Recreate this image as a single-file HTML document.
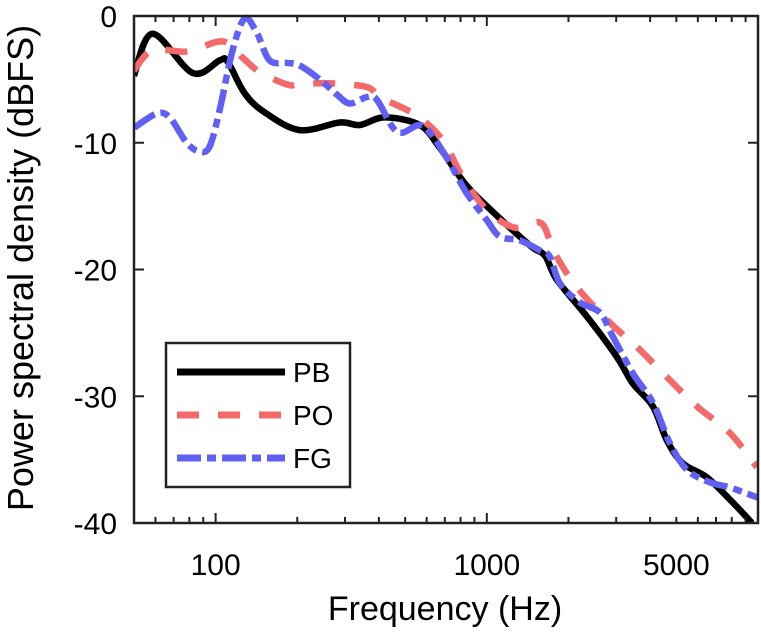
<!DOCTYPE html>
<html><head><meta charset="utf-8"><style>
html,body{margin:0;padding:0;background:#fff;}
svg{display:block;font-family:"Liberation Sans",Arial,sans-serif;}
</style></head><body>
<svg id="chart" width="761" height="634" viewBox="0 0 761 634">
<g id="series"></g>
<g id="axes"></g>
<g id="legend"></g>
</svg>
<script>
const pbFreq=[50,58.5,82.3,103.5,110.7,128,151.6,204,287,340,420,566,671,829,1000,1442,1637,1812,2338,3019,3457,4097,4616,5286,6485,8087,9500];
const pbDb=[-4.7,-1.4,-4.5,-3.5,-3.6,-6.1,-7.6,-9.0,-8.4,-8.6,-8.0,-8.6,-10.4,-13.2,-15.0,-18.1,-18.9,-20.8,-23.7,-26.9,-29.0,-30.8,-33.5,-35.3,-36.4,-38.4,-40];
const poFreq=[50,58.5,78.8,106,125.8,145,183,204,263,361,403,507,566,688,815,1000,1268,1569,1708,1812,2148,2844,3575,4616,5955,7880,9910];
const poDb=[-4.3,-2.7,-2.8,-2.0,-3.3,-4.4,-5.4,-5.4,-5.3,-5.6,-6.4,-7.4,-8.0,-9.8,-12.7,-15.3,-16.7,-16.3,-17.7,-19.0,-21.4,-24.2,-26.1,-28.5,-30.8,-32.9,-35.6];
const fgFreq=[50.2,60.6,67.7,78.2,87.3,95,103.5,115.5,128,141.7,158,182.8,204,242,280,312,361,393,450,490,566,632,730,844,1000,1116,1324,1569,1708,1860,2204,2612,2917,3457,4097,4733,5470,6652,7880,10000];
const fgDb=[-8.8,-7.7,-8.0,-10.0,-10.7,-10.3,-7.4,-2.7,-0.2,-1.3,-3.5,-3.7,-3.9,-5.0,-6.2,-6.9,-6.4,-6.6,-8.8,-9.2,-8.6,-9.5,-11.6,-14.0,-16.1,-17.4,-17.7,-18.5,-19.0,-21.1,-22.6,-23.4,-25.3,-28.2,-30.5,-33.7,-35.8,-36.8,-37.2,-38.0];
const xTickVals=[100,1000,5000];
const xTickLabels=["100","1000","5000"];
const yTickVals=[0,-10,-20,-30,-40];
const yTickLabels=["0","-10","-20","-30","-40"];
const seriesNames=["PB","PO","FG"];

const L=134,R=758,T=16,B=523,XMIN=50,XMAX=10000,YMIN=-40,YMAX=0;
const NS="http://www.w3.org/2000/svg";
function X(f){return L+(Math.log10(f)-Math.log10(XMIN))/(Math.log10(XMAX)-Math.log10(XMIN))*(R-L);}
function Y(v){return T+(YMAX-v)/(YMAX-YMIN)*(B-T);}
function mk(tag,attrs,parent){const e=document.createElementNS(NS,tag);for(const k in attrs)e.setAttribute(k,attrs[k]);parent.appendChild(e);return e;}
function smooth(pts){let d='M'+pts[0][0].toFixed(1)+','+pts[0][1].toFixed(1);
  for(let i=0;i<pts.length-1;i++){const p0=pts[Math.max(0,i-1)],p1=pts[i],p2=pts[i+1],p3=pts[Math.min(pts.length-1,i+2)];
    const c1x=p1[0]+(p2[0]-p0[0])/6,c1y=p1[1]+(p2[1]-p0[1])/6,c2x=p2[0]-(p3[0]-p1[0])/6,c2y=p2[1]-(p3[1]-p1[1])/6;
    d+=' C'+c1x.toFixed(1)+','+c1y.toFixed(1)+' '+c2x.toFixed(1)+','+c2y.toFixed(1)+' '+p2[0].toFixed(1)+','+p2[1].toFixed(1);}
  return d;}
const axes=document.getElementById('axes'),series=document.getElementById('series'),legend=document.getElementById('legend');

const styles=[{c:"#000",d:"none"},{c:"#f46a6a",d:"22 19"},{c:"#6060f4",d:"24 6 9 6"}];
const data=[[pbFreq,pbDb],[poFreq,poDb],[fgFreq,fgDb]];
const clip=mk('clipPath',{id:'pc'},series);mk('rect',{x:L,y:T-3,width:R-L,height:B-T+3},clip);
data.forEach((s,i)=>{
  const pts=s[0].map((f,j)=>[X(f),Y(s[1][j])]);
  const p=mk('path',{d:smooth(pts),fill:'none',stroke:styles[i].c,'stroke-width':6.5,'stroke-dasharray':styles[i].d,'stroke-linejoin':'round','clip-path':'url(#pc)'},series);
  
  
});

const fr=mk('rect',{x:L,y:T,width:R-L,height:B-T,fill:'none',stroke:'#222','stroke-width':2.5},axes);


for(let dec=10;dec<10000;dec*=10){for(let m=1;m<10;m++){const f=dec*m;if(f<XMIN||f>XMAX)continue;const x=X(f);const len=(m===1)?10:6;
  mk('line',{x1:x,x2:x,y1:B,y2:B-len,stroke:'#222','stroke-width':2},axes);
  mk('line',{x1:x,x2:x,y1:T,y2:T+len,stroke:'#222','stroke-width':2},axes);}}
xTickVals.forEach((v,i)=>{const t=mk('text',{x:X(v),y:575,'text-anchor':'middle','font-size':30,fill:'#000'},axes);t.textContent=xTickLabels[i];
  
  });
yTickVals.forEach((v,i)=>{const y=Y(v);
  mk('line',{x1:L,x2:L+10,y1:y,y2:y,stroke:'#222','stroke-width':2},axes);
  mk('line',{x1:R,x2:R-10,y1:y,y2:y,stroke:'#222','stroke-width':2},axes);
  const t=mk('text',{x:117,y:y+11,'text-anchor':'end','font-size':30,fill:'#000'},axes);t.textContent=yTickLabels[i];
  
  });
const xt=mk('text',{x:445,y:620,'text-anchor':'middle','font-size':34,fill:'#000'},axes);xt.textContent="Frequency (Hz)";


const yt=mk('text',{x:0,y:0,'text-anchor':'middle','font-size':36,fill:'#000',transform:'translate(33,268) rotate(-90)'},axes);yt.textContent="Power spectral density (dBFS)";



const lb=mk('rect',{x:166,y:343,width:184,height:144,fill:'#fff',stroke:'#222','stroke-width':2.5},legend);


seriesNames.forEach((n,i)=>{const y=372+i*43;
  const g=mk('g',{},legend);
  
  
  mk('line',{x1:177,x2:285,y1:y,y2:y,stroke:styles[i].c,'stroke-width':7,'stroke-dasharray':styles[i].d},g);
  const t=mk('text',{x:293,y:y+10,'font-size':28,fill:'#000'},g);t.textContent=n;});
</script>
</body></html>
